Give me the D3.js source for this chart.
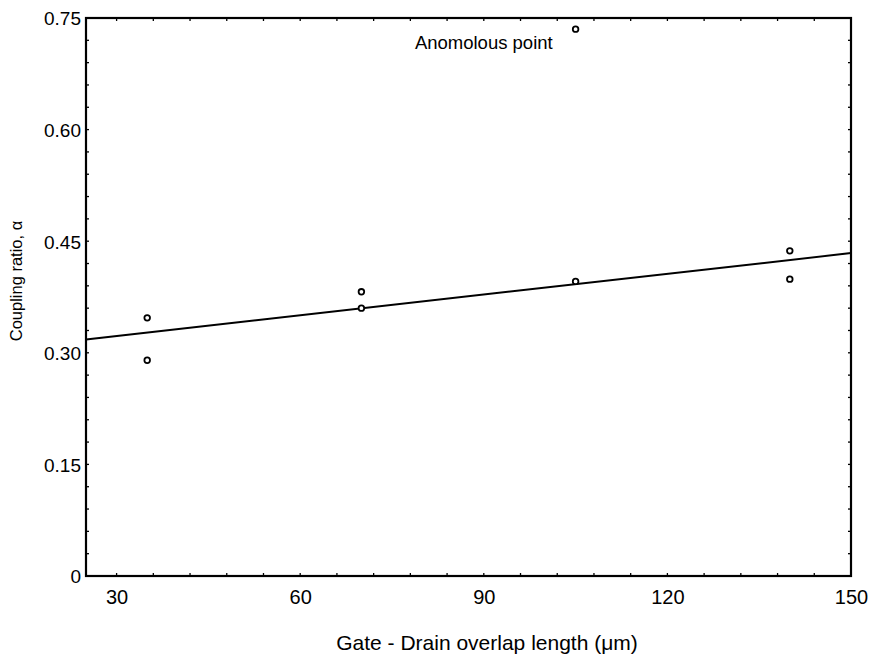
<!DOCTYPE html>
<html>
<head>
<meta charset="utf-8">
<script src="https://cdn.jsdelivr.net/npm/d3@7/dist/d3.min.js"></script>
<style>
  html, body { margin: 0; padding: 0; background: #fff; }
  svg { display: block; font-family: "Liberation Sans", Arial, sans-serif; }
</style>
</head>
<body>
<svg id="chart" width="869" height="656"></svg>
<script>
// Measured coupling ratio against gate-drain overlap length
const overlapLengths = [35, 35, 70, 70, 105, 105, 140, 140];
const couplingRatios = [0.347, 0.290, 0.382, 0.360, 0.396, 0.735, 0.437, 0.399];

// Linear fit drawn across the whole x range
const fitX = [25, 150];
const fitY = [0.318, 0.434];

const xTicks = [30, 60, 90, 120, 150];
const yTicks = [0, 0.15, 0.30, 0.45, 0.60, 0.75];
const yTickLabels = ["0", "0.15", "0.30", "0.45", "0.60", "0.75"];

const annotation = { text: "Anomolous point", x: 90, y: 0.735 };

const svg = d3.select("#chart");
const margin = { left: 86, right: 18, top: 18, bottom: 80 };
const W = 869, H = 656;
const FONT = "Liberation Sans, Arial, sans-serif";

const x = d3.scaleLinear().domain([25, 150]).range([margin.left, W - margin.right]);
const y = d3.scaleLinear().domain([0, 0.75]).range([H - margin.bottom, margin.top]);

const minorX = d3.range(24, 151, 6).filter(v => v > 25 && v < 150);
const minorY = d3.range(0.03, 0.75, 0.03);

// Minor ticks pointing inward on all four sides
const tickG = svg.append("g").attr("stroke", "#000").attr("stroke-width", 1.3);
minorX.forEach(v => {
  tickG.append("line").attr("x1", x(v)).attr("x2", x(v)).attr("y1", y(0)).attr("y2", y(0) - 3);
  tickG.append("line").attr("x1", x(v)).attr("x2", x(v)).attr("y1", y(0.75)).attr("y2", y(0.75) + 3);
});
minorY.forEach(v => {
  tickG.append("line").attr("x1", x(25)).attr("x2", x(25) + 3).attr("y1", y(v)).attr("y2", y(v));
  tickG.append("line").attr("x1", x(150)).attr("x2", x(150) - 3).attr("y1", y(v)).attr("y2", y(v));
});

// Frame
svg.append("rect")
  .attr("x", x(25)).attr("y", y(0.75))
  .attr("width", x(150) - x(25)).attr("height", y(0) - y(0.75))
  .attr("fill", "none").attr("stroke", "#000").attr("stroke-width", 2.2);

// Axes (labels only; the frame supplies the lines)
const xAxis = d3.axisBottom(x).tickValues(xTicks).tickSize(0).tickPadding(0);
const gx = svg.append("g").attr("transform", `translate(0,${y(0)})`).call(xAxis);
gx.select(".domain").remove();
gx.selectAll("text").attr("dy", null).attr("y", 28)
  .attr("font-size", 20).attr("fill", "#000").attr("font-family", FONT);

const yAxis = d3.axisLeft(y).tickValues(yTicks).tickSize(0).tickPadding(0)
  .tickFormat((d, i) => yTickLabels[i]);
const gy = svg.append("g").attr("transform", `translate(${x(25)},0)`).call(yAxis);
gy.select(".domain").remove();
gy.selectAll("text").attr("x", -5).attr("dy", "0.36em")
  .attr("font-size", 19).attr("fill", "#000").attr("font-family", FONT);

// Fit line
svg.append("path")
  .datum(fitX.map((v, i) => [v, fitY[i]]))
  .attr("d", d3.line().x(d => x(d[0])).y(d => y(d[1])))
  .attr("fill", "none").attr("stroke", "#000").attr("stroke-width", 2);

// Data points
svg.append("g").selectAll("circle")
  .data(overlapLengths.map((v, i) => [v, couplingRatios[i]]))
  .join("circle")
  .attr("cx", d => x(d[0])).attr("cy", d => y(d[1])).attr("r", 2.8)
  .attr("fill", "#fff").attr("stroke", "#000").attr("stroke-width", 1.8);

// Annotation
svg.append("text")
  .attr("x", x(annotation.x)).attr("y", y(annotation.y) + 20)
  .attr("text-anchor", "middle").attr("font-size", 18.5)
  .text(annotation.text);

// Axis titles
svg.append("text")
  .attr("x", 487).attr("y", 650)
  .attr("text-anchor", "middle").attr("font-size", 21)
  .text("Gate - Drain overlap length (μm)");

svg.append("text")
  .attr("transform", `translate(22,281) rotate(-90)`)
  .attr("text-anchor", "middle").attr("font-size", 16.5)
  .text("Coupling ratio, α");
</script>
</body>
</html>
